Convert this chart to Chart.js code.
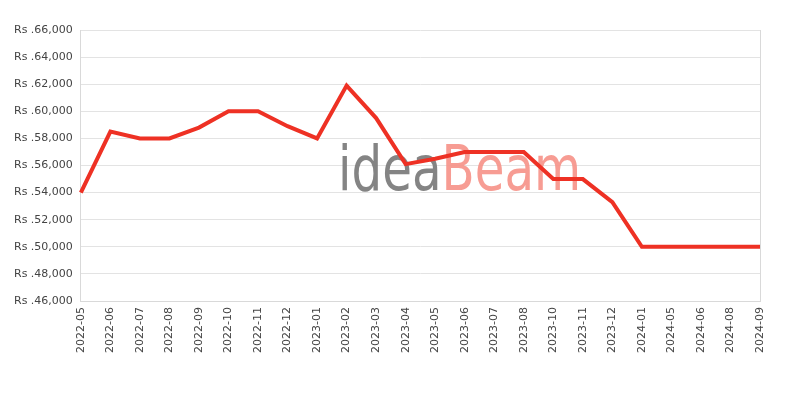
<!DOCTYPE html>
<html>
<head>
<meta charset="utf-8">
<script src="https://cdn.jsdelivr.net/npm/chart.js@4"></script>
<style>
  html, body { margin: 0; padding: 0; background: #fff; }
  #wrap { width: 800px; height: 400px; }
</style>
</head>
<body>
<div id="wrap"><canvas id="priceChart"></canvas></div>
<script>
// --- DATA ---
const months = ["2022-05", "2022-06", "2022-07", "2022-08", "2022-09", "2022-10", "2022-11", "2022-12",
  "2023-01", "2023-02", "2023-03", "2023-04", "2023-05", "2023-06", "2023-07", "2023-08",
  "2023-10", "2023-11", "2023-12", "2024-01", "2024-05", "2024-06", "2024-08", "2024-09"];
const prices = [54000, 58500, 58000, 58000, 58800, 60000, 60000, 58900,
  58000, 61900, 59500, 56100, 56500, 57000, 57000, 57000,
  55000, 55000, 53300, 50000, 50000, 50000, 50000, 50000];
const yMin = 46000, yMax = 66000, yStep = 2000;

// watermark text drawn behind the line
const watermark = {
  id: 'watermark',
  beforeDatasetsDraw(chart) {
    const ctx = chart.ctx;
    ctx.save();
    ctx.translate(338, 190);
    ctx.scale(0.78, 1);
    ctx.font = '62px "DejaVu Sans", sans-serif';
    ctx.textBaseline = 'alphabetic';
    ctx.fillStyle = 'rgba(125,125,125,0.95)';
    ctx.fillText('idea', 0, 0);
    const w = ctx.measureText('idea').width;
    ctx.fillStyle = 'rgba(246,145,135,0.9)';
    ctx.fillText('Beam', w, 0);
    ctx.restore();
  }
};

const ctx = document.getElementById('priceChart').getContext('2d');
new Chart(ctx, {
  type: 'line',
  data: {
    labels: months,
    datasets: [{
      data: prices,
      borderColor: '#ee3124',
      borderWidth: 4,
      pointRadius: 0,
      tension: 0,
      fill: false
    }]
  },
  options: {
    responsive: true,
    maintainAspectRatio: false,
    animation: false,
    layout: { padding: { top: 30, right: 40, bottom: 41, left: 6 } },
    plugins: { legend: { display: false }, tooltip: { enabled: false } },
    scales: {
      x: {
        offset: false,
        grid: {
          color: c => (c.index === 0 || c.index === months.length - 1) ? '#d9d9d9' : 'rgba(0,0,0,0)',
          drawTicks: false
        },
        border: { color: '#d9d9d9' },
        ticks: {
          color: '#444', font: { family: 'DejaVu Sans', size: 11 },
          maxRotation: 90, minRotation: 90, autoSkip: false, padding: 6
        }
      },
      y: {
        min: yMin, max: yMax,
        grid: { color: '#e3e3e3', drawTicks: false },
        border: { color: '#d9d9d9' },
        ticks: {
          stepSize: yStep, color: '#444', padding: 8,
          font: { family: 'DejaVu Sans', size: 11 },
          callback: v => 'Rs .' + v.toLocaleString('en-US')
        }
      }
    }
  },
  plugins: [watermark]
});
</script>
</body>
</html>
